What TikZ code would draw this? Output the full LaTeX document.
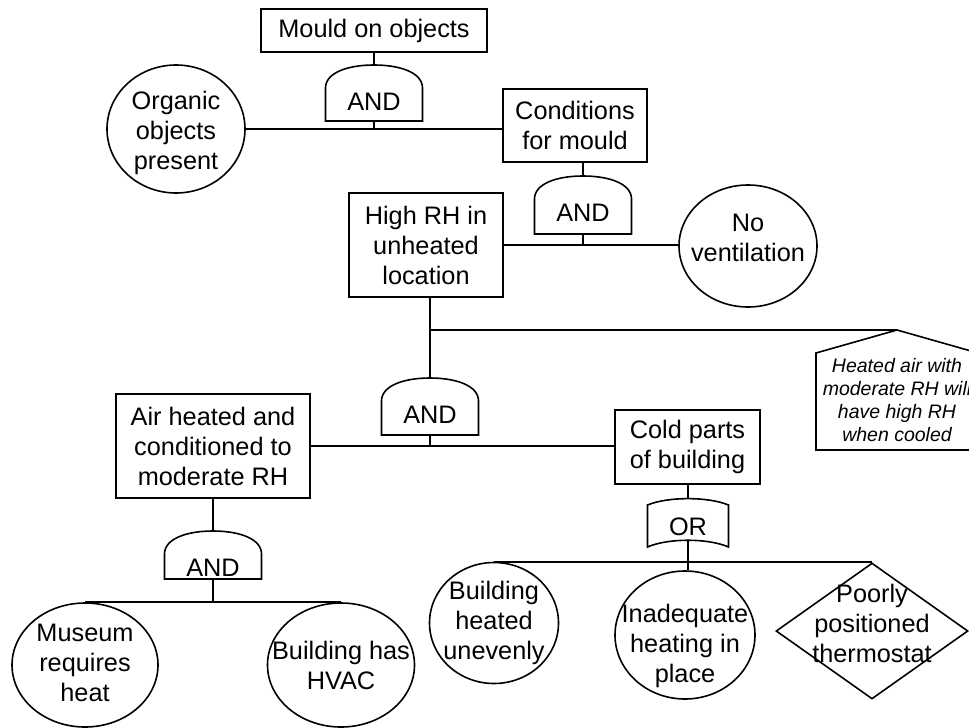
\documentclass[tikz,border=0pt]{standalone}
\usepackage{fontspec}
\setmainfont{Liberation Sans}
\usetikzlibrary{shapes,calc,positioning}

\newcommand{\andgate}[4]{%
  \node[gatetext] (#1) at (#2,#3) {AND};
  \coordinate (#1-top) at ($(#1)+(0,-37)$);
  \coordinate (#1-bot) at ($(#1)+(0,#4)$);
  \draw[gateline] ($(#1)+(-48.5,#4)$) -- ($(#1)+(-48.5,-14)$)
    .. controls ($(#1)+(-48.5,-29)$) and ($(#1)+(-27,-37)$) .. (#1-top)
    .. controls ($(#1)+(27,-37)$) and ($(#1)+(48.5,-29)$) .. ($(#1)+(48.5,-14)$)
    -- ($(#1)+(48.5,#4)$) -- cycle;}

\begin{document}
\begin{tikzpicture}[x=1pt, y=-1pt, font=\fontsize{25.3}{30}\selectfont,
  event/.style={draw, line width=1.6pt, inner sep=0pt, align=center},
  basic/.style={draw, ellipse, line width=1.6pt, inner sep=0pt},
  gatetext/.style={inner sep=0pt},
  gateline/.style={line width=1.6pt},
  conn/.style={line width=1.6pt},
  every label/.style={align=center}]

\path[fill=white, use as bounding box] (0,0) rectangle (969,728);
\clip (0,0) rectangle (969,728);

% events
\node[event, minimum width=226pt, minimum height=43pt] (mould) at (374,30.5) {Mould on objects};
\node[event, minimum width=144pt, minimum height=73pt] (cond) at (575,125.5) {Conditions\\for mould};
\node[event, minimum width=154pt, minimum height=104pt] (highrh) at (426,245) {High RH in\\unheated\\location};
\node[event, minimum width=194pt, minimum height=104pt] (air) at (213,446) {Air heated and\\conditioned to\\moderate RH};
\node[event, minimum width=145pt, minimum height=74pt] (cold) at (687.5,447) {Cold parts\\of building};

% basic events
\node[basic, minimum width=138pt, minimum height=128pt, label={[yshift=-4pt]center:Organic\\objects\\present}] (organic) at (176,129) {};
\node[basic, minimum width=138pt, minimum height=122pt, label={[yshift=8pt]center:No\\ventilation}] (novent) at (748,246) {};
\node[basic, minimum width=146pt, minimum height=124pt, label={[yshift=2pt]center:Museum\\requires\\heat}] (museum) at (85,665) {};
\node[basic, minimum width=147pt, minimum height=124pt, label={center:Building has\\HVAC}] (hvac) at (341,665) {};
\node[basic, minimum width=129pt, minimum height=121pt, label={center:Building\\heated\\unevenly}] (uneven) at (494,623) {};
\node[basic, minimum width=140pt, minimum height=128pt, label={[yshift=-11pt]center:Inadequate\\heating in\\place}] (inadeq) at (685,635) {};
\node[draw, diamond, line width=1.6pt, inner sep=0pt, minimum width=192pt, minimum height=136pt, label={[yshift=8pt]center:Poorly\\positioned\\thermostat}] (thermo) at (872,631) {};

% gates
\andgate{and1}{374}{102}{19}
\andgate{and2}{583}{213}{21}
\andgate{and3}{430}{415}{20}
\andgate{and4}{213}{568}{11}

\node[gatetext] (or1) at (688,527) {OR};
\coordinate (or1-top) at ($(or1)+(0,-29)$);
\coordinate (or1-bot) at ($(or1)+(0,13)$);
\draw[gateline] ($(or1)+(-40.5,-22)$) .. controls ($(or1)+(-20,-30.5)$) and ($(or1)+(20,-30.5)$) .. ($(or1)+(40.5,-22)$)
  -- ($(or1)+(40.5,20)$) .. controls ($(or1)+(20,11)$) and ($(or1)+(-20,11)$) .. ($(or1)+(-40.5,20)$) -- cycle;

% condition note
\node[font=\fontsize{19.5}{23}\selectfont\itshape, align=center, inner sep=0pt] (note) at (897,400) {Heated air with\\moderate RH will\\have high RH\\when cooled};
\coordinate (note-top) at ($(note)+(0,-70)$);
\draw[gateline] ($(note)+(-81,50)$) -- ($(note)+(-81,-47)$) -- (note-top) -- ($(note)+(81,-47)$) -- ($(note)+(81,50)$) -- cycle;

% connectors
\draw[conn] (mould.south) -- (and1-top);
\draw[conn] (organic.east) -- (organic.east -| cond.west);
\draw[conn] (and1-bot) -- (and1-bot |- organic.east);
\draw[conn] (cond.south -| and2-top) -- (and2-top);
\draw[conn] (highrh.east) -- (highrh.east -| novent.west);
\draw[conn] (and2-bot) -- (and2-bot |- highrh.east);
\draw[conn] (highrh.south -| and3-top) -- (and3-top);
\draw[conn] (note-top -| and3-top) -- (note-top);
\draw[conn] (air.east) -- (air.east -| cold.west);
\draw[conn] (and3-bot) -- (and3-bot |- air.east);
\draw[conn] (air.south -| and4-top) -- (and4-top);
\draw[conn] (museum.north) -- (hvac.north);
\draw[conn] (and4-bot) -- (and4-bot |- museum.north);
\draw[conn] (cold.south -| or1-top) -- (or1-top);
\draw[conn] (uneven.north) -- (uneven.north -| thermo.north);
\draw[conn] (or1-bot) -- (or1-bot |- inadeq.north);

\end{tikzpicture}
\end{document}
